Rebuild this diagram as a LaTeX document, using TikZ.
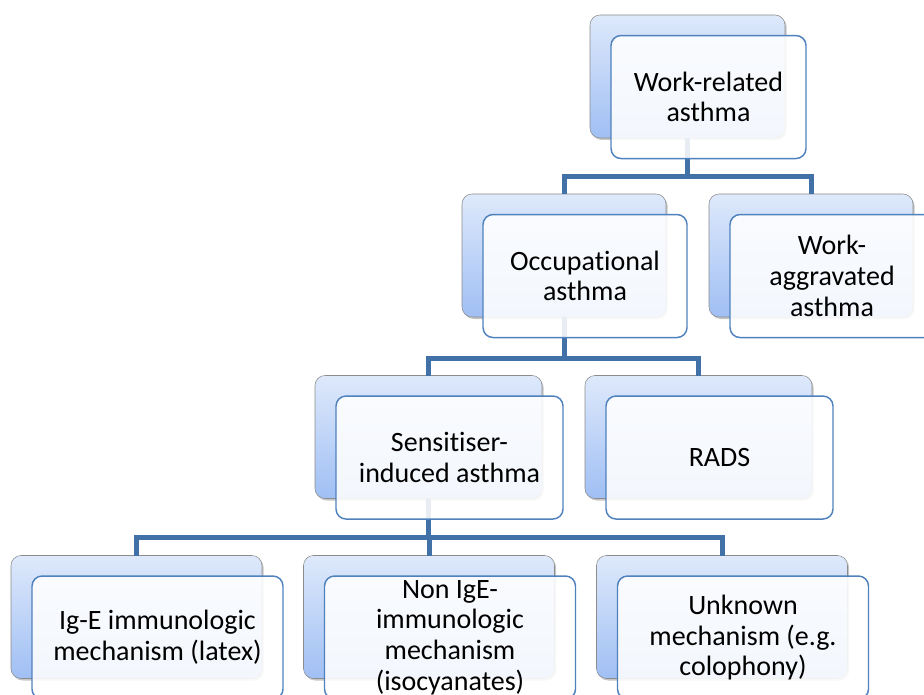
\documentclass[tikz,border=0pt]{standalone}
\usepackage{fontspec}
\setmainfont{Carlito}[Ligatures={NoCommon}]
\usetikzlibrary{shadows}

\definecolor{linkblue}{HTML}{4271A8}
\definecolor{frontblue}{HTML}{4F81BD}
\definecolor{backtop}{HTML}{DEE9FB}
\definecolor{backbot}{HTML}{A0BFF4}

\begin{document}
\begin{tikzpicture}[x=0.75pt,y=0.75pt]
\tikzset{
  backbox/.style={rectangle,rounded corners=7.5pt,draw=gray!90,thin,top color=backtop,bottom color=backbot,
    minimum height=92.25pt,inner sep=0pt,outer sep=0pt,
    drop shadow={shadow xshift=1.2pt,shadow yshift=-1.5pt,opacity=0.45}},
  frontbox/.style={rectangle,rounded corners=7.5pt,draw=frontblue,line width=1.1pt,fill=white,
    fill opacity=0.88,text opacity=1,minimum height=92.25pt,inner sep=0pt,outer sep=0pt,
    xshift=15.75pt,yshift=-15.4pt,align=center,font=\fontsize{21pt}{23pt}\selectfont},
  link/.style={draw=linkblue,line width=3.75pt}
}
\useasboundingbox (0,0) rectangle (924,-695);
\clip (0,0) rectangle (924,-695);
% back boxes
\node[backbox,minimum width=146.25pt] (wra_b) at (687.5,-76.5) {};
\node[backbox,minimum width=153pt] (occ_b) at (564,-255.5) {};
\node[backbox,minimum width=153pt] (wag_b) at (811,-255.5) {};
\node[backbox,minimum width=170.25pt] (sen_b) at (428.5,-437) {};
\node[backbox,minimum width=170.25pt] (rad_b) at (698.5,-437) {};
\node[backbox,minimum width=188.25pt] (ige_b) at (136.5,-617) {};
\node[backbox,minimum width=188.25pt] (nig_b) at (429,-617) {};
\node[backbox,minimum width=188.25pt] (unk_b) at (722,-617) {};
% connectors
\draw[link] (wra_b.south) -- ++(0,-39) -| (occ_b.north);
\draw[link] (wra_b.south) -- ++(0,-39) -| (wag_b.north);
\draw[link] (occ_b.south) -- ++(0,-41) -| (sen_b.north);
\draw[link] (occ_b.south) -- ++(0,-41) -| (rad_b.north);
\draw[link] (sen_b.south) -- ++(0,-39) -| (ige_b.north);
\draw[link] (sen_b.south) -- ++(0,-39) -| (nig_b.north);
\draw[link] (sen_b.south) -- ++(0,-39) -| (unk_b.north);
% front boxes
\node[frontbox,minimum width=146.25pt] (wra) at (wra_b) {Work-related\\asthma};
\node[frontbox,minimum width=153pt] (occ) at (occ_b) {Occupational\\asthma};
\node[frontbox,minimum width=153pt] (wag) at (wag_b) {Work-\\aggravated\\asthma};
\node[frontbox,minimum width=170.25pt] (sen) at (sen_b) {Sensitiser-\\induced asthma};
\node[frontbox,minimum width=170.25pt] (rad) at (rad_b) {RADS};
\node[frontbox,minimum width=188.25pt] (ige) at (ige_b) {Ig-E immunologic\\mechanism (latex)};
\node[frontbox,minimum width=188.25pt] (nig) at (nig_b) {Non IgE-\\immunologic\\mechanism\\(isocyanates)};
\node[frontbox,minimum width=188.25pt] (unk) at (unk_b) {Unknown\\mechanism (e.g.\\colophony)};
\end{tikzpicture}
\end{document}
